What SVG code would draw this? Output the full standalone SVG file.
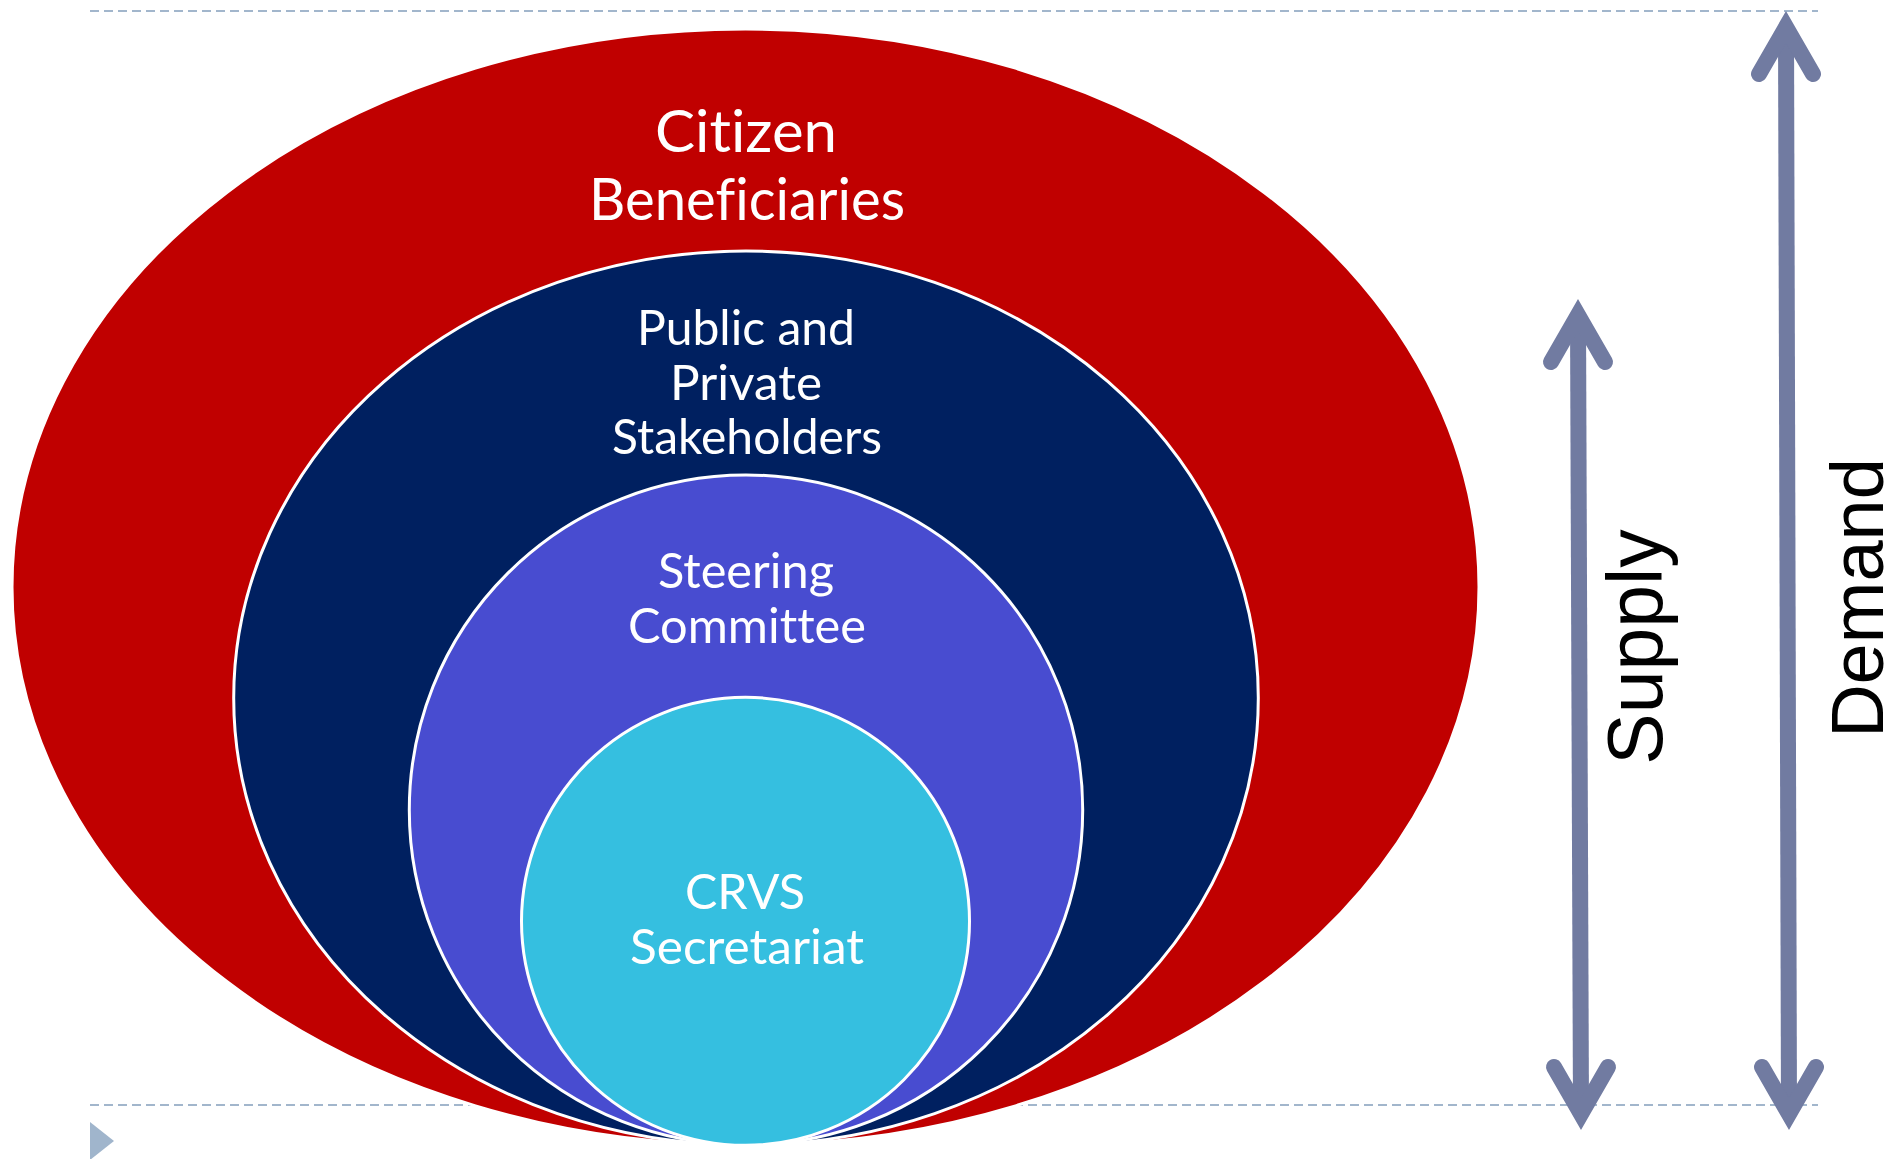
<svg xmlns="http://www.w3.org/2000/svg" width="1899" height="1159" viewBox="0 0 1899 1159">
  <defs>
    <style>
      .guide { stroke: #A2B6CC; stroke-width: 2.2; stroke-dasharray: 9 5; fill: none; }
      .ring { stroke: #FFFFFF; stroke-width: 3; }
      .lbl { font-family: Lato, "Noto Sans", "DejaVu Sans", sans-serif; fill: #FFFFFF; text-anchor: middle; font-variant-ligatures: none; font-feature-settings: "liga" 0, "clig" 0; }
      .big { font-size: 58px; }
      .mid { font-size: 49px; }
      .shaft { stroke: #717BA1; stroke-width: 16; fill: none; stroke-linecap: butt; }
      .head { stroke: #717BA1; stroke-width: 16; fill: none; stroke-linecap: round; stroke-linejoin: miter; stroke-miterlimit: 4; }
      .axis { font-family: "Liberation Sans", Arial, sans-serif; fill: #000000; text-anchor: middle; }
    </style>
  </defs>

  <!-- dashed guide lines (drawn beneath the rings) -->
  <g id="guides">
    <line class="guide" x1="90" y1="11" x2="1818" y2="11"/>
    <line class="guide" x1="90" y1="1105" x2="1818" y2="1105"/>
  </g>

  <!-- small bullet marker bottom-left -->
  <polygon id="bullet" points="90,1122 114,1141 90,1160" fill="#A0B5CC"/>

  <g id="citizen">
    <ellipse class="ring" cx="745.5" cy="587" rx="733.5" ry="558" fill="#C00000"/>
    <text class="lbl big" x="746" y="152" textLength="182" lengthAdjust="spacingAndGlyphs">Citizen</text>
    <text class="lbl big" x="747" y="220" textLength="316" lengthAdjust="spacingAndGlyphs">Beneficiaries</text>
  </g>

  <g id="stakeholders">
    <ellipse class="ring" cx="746" cy="698" rx="512.3" ry="447" fill="#002060"/>
    <text class="lbl mid" x="746" y="345" textLength="218" lengthAdjust="spacingAndGlyphs">Public and</text>
    <text class="lbl mid" x="746" y="399.5" textLength="152" lengthAdjust="spacingAndGlyphs">Private</text>
    <text class="lbl mid" x="747" y="454" textLength="270" lengthAdjust="spacingAndGlyphs">Stakeholders</text>
  </g>

  <g id="steering">
    <ellipse class="ring" cx="746" cy="810" rx="336.7" ry="335" fill="#484CD0"/>
    <text class="lbl mid" x="746" y="588" textLength="176" lengthAdjust="spacingAndGlyphs">Steering</text>
    <text class="lbl mid" x="747" y="643" textLength="238" lengthAdjust="spacingAndGlyphs">Committee</text>
  </g>

  <g id="secretariat">
    <circle class="ring" cx="745.5" cy="921.3" r="224" fill="#35BFE0"/>
    <text class="lbl mid" x="745" y="909" textLength="120" lengthAdjust="spacingAndGlyphs">CRVS</text>
    <text class="lbl mid" x="747" y="964" textLength="234" lengthAdjust="spacingAndGlyphs">Secretariat</text>
  </g>

  <!-- double-headed axis arrows -->
  <g id="connectors">
    <g id="supply-arrow">
      <line class="shaft" x1="1578" y1="315" x2="1581" y2="1114"/>
      <polyline class="head" points="1551,362 1578,315 1605,362"/>
      <polyline class="head" points="1554,1067 1581,1114 1608,1067"/>
    </g>
    <g id="demand-arrow">
      <line class="shaft" x1="1786" y1="27" x2="1789" y2="1114"/>
      <polyline class="head" points="1759,74 1786,27 1813,74"/>
      <polyline class="head" points="1762,1067 1789,1114 1816,1067"/>
    </g>
  </g>

  <g id="supply-label">
    <text class="axis" transform="translate(1662,647) rotate(-90)" font-size="77">Supply</text>
  </g>
  <g id="demand-label">
    <text class="axis" transform="translate(1883,598) rotate(-90)" font-size="74">Demand</text>
  </g>
</svg>
